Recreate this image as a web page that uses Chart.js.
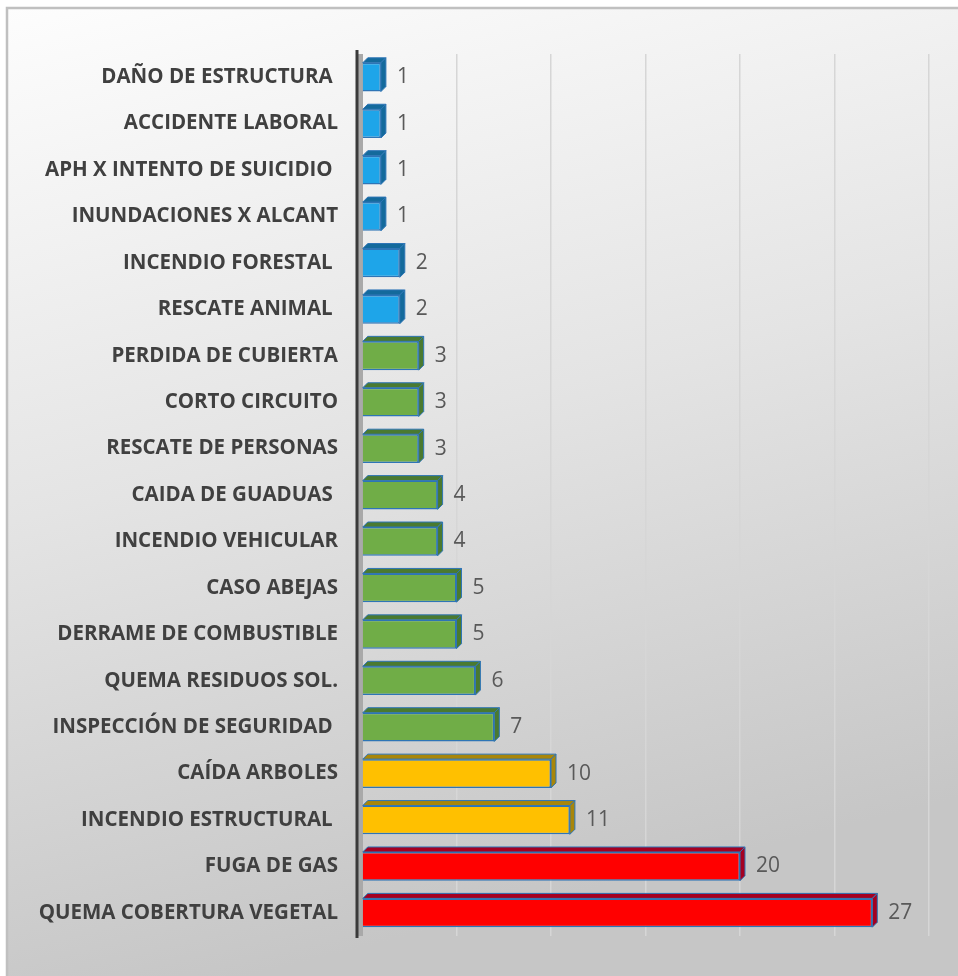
<!DOCTYPE html>
<html>
<head>
<meta charset="utf-8">
<script src="https://cdn.jsdelivr.net/npm/chart.js@4/dist/chart.umd.min.js"></script>
<style>
  html, body { margin: 0; padding: 0; background: #fff; }
  #grafico { display: block; }
</style>
</head>
<body>
<canvas id="grafico" width="958" height="976"></canvas>
<script>
// categorias (de arriba hacia abajo) y sus valores
const categorias = [
    'DAÑO DE ESTRUCTURA ', 'ACCIDENTE LABORAL', 'APH X INTENTO DE SUICIDIO ',
    'INUNDACIONES X ALCANT', 'INCENDIO FORESTAL ', 'RESCATE ANIMAL ',
    'PERDIDA DE CUBIERTA', 'CORTO CIRCUITO', 'RESCATE DE PERSONAS',
    'CAIDA DE GUADUAS ', 'INCENDIO VEHICULAR', 'CASO ABEJAS',
    'DERRAME DE COMBUSTIBLE', 'QUEMA RESIDUOS SOL.', 'INSPECCIÓN DE SEGURIDAD ',
    'CAÍDA ARBOLES', 'INCENDIO ESTRUCTURAL ', 'FUGA DE GAS', 'QUEMA COBERTURA VEGETAL'
];
const valores = [1, 1, 1, 1, 2, 2, 3, 3, 3, 4, 4, 5, 5, 6, 7, 10, 11, 20, 27];
const ejeMin = 0, ejeMax = 30, paso = 5;

// color segun rango
function colorBarra(v) {
    if (v >= 20) return '#ff0000';
    if (v >= 10) return '#ffc000';
    if (v >= 3) return '#70ad47';
    return '#1ea5e9';
}
function colorOscuro(v) {
    if (v >= 20) return '#a50021';
    if (v >= 10) return '#a8860a';
    if (v >= 3) return '#4a7a30';
    return '#146a9c';
}

// fondo con degradado y marco
const fondo = {
    id: 'fondo',
    beforeDraw(chart) {
        const c = chart.ctx, w = chart.width, h = chart.height;
        c.save();
        c.fillStyle = '#ffffff';
        c.fillRect(0, 0, w, h);
        const g = c.createLinearGradient(7, 8, 250, h);
        g.addColorStop(0, '#fdfdfd');
        g.addColorStop(0.5, '#e4e4e4');
        g.addColorStop(1, '#c6c6c6');
        c.fillStyle = g;
        c.fillRect(7, 8, w - 7, h - 8);
        c.strokeStyle = '#c0c0c0';
        c.lineWidth = 2.5;
        c.beginPath();
        c.moveTo(7, h);
        c.lineTo(7, 8);
        c.lineTo(w, 8);
        c.stroke();
        c.restore();
    }
};

// pared lateral y eje vertical
const pared = {
    id: 'pared',
    beforeDatasetsDraw(chart) {
        const c = chart.ctx, a = chart.chartArea;
        c.save();
        c.fillStyle = '#a9a9a9';
        c.fillRect(a.left - 4, a.top, 5, a.bottom - a.top);
        c.strokeStyle = '#3a3a3a';
        c.lineWidth = 3;
        c.beginPath();
        c.moveTo(a.left - 5, a.top - 4);
        c.lineTo(a.left - 5, a.bottom + 2);
        c.stroke();
        c.restore();
    }
};

// relieve 3D y etiquetas de valor
const relieve = {
    id: 'relieve',
    afterDatasetsDraw(chart) {
        const c = chart.ctx;
        const meta = chart.getDatasetMeta(0);
        const d = 5;
        c.save();
        meta.data.forEach((bar, i) => {
            const v = valores[i];
            const top = bar.y - bar.height / 2, bot = bar.y + bar.height / 2;
            c.fillStyle = colorOscuro(v);
            c.strokeStyle = '#2e75b6';
            c.lineWidth = 1;
            c.beginPath();
            c.moveTo(bar.base, top);
            c.lineTo(bar.base + d, top - d);
            c.lineTo(bar.x + d, top - d);
            c.lineTo(bar.x, top);
            c.closePath();
            c.fill();
            c.stroke();
            c.beginPath();
            c.moveTo(bar.x, top);
            c.lineTo(bar.x + d, top - d);
            c.lineTo(bar.x + d, bot - d);
            c.lineTo(bar.x, bot);
            c.closePath();
            c.fill();
            c.stroke();

            c.fillStyle = '#595959';
            c.font = '400 21px "Open Sans"';
            c.textAlign = 'left';
            c.textBaseline = 'middle';
            c.fillText(String(v), bar.x + 16, bar.y);
        });
        c.restore();
    }
};

const ctx = document.getElementById('grafico').getContext('2d');
const grafico = new Chart(ctx, {
    type: 'bar',
    data: {
        labels: categorias,
        datasets: [{
            data: valores,
            backgroundColor: valores.map(colorBarra),
            borderColor: '#2e75b6',
            borderWidth: 1.5,
            barPercentage: 0.62,
            categoryPercentage: 1
        }]
    },
    options: {
        indexAxis: 'y',
        responsive: false,
        animation: false,
        layout: { padding: { left: 32, right: 29, top: 54, bottom: 40 } },
        plugins: {
            legend: { display: false },
            tooltip: { enabled: false }
        },
        scales: {
            x: {
                min: ejeMin,
                max: ejeMax,
                ticks: { stepSize: paso, display: false },
                border: { display: false },
                grid: {
                    drawTicks: false,
                    lineWidth: 1.5,
                    color: (c) => c.tick && c.tick.value === 0 ? 'rgba(0,0,0,0)' : '#d6d6d6'
                },
                afterFit: (s) => { s.height = 0; }
            },
            y: {
                grid: { display: false, drawTicks: false },
                border: { display: false },
                ticks: {
                    color: '#404040',
                    padding: 24,
                    font: { family: '"Open Sans"', weight: '700', size: 20.5 }
                },
                afterFit: (s) => { s.width = 330; }
            }
        }
    },
    plugins: [fondo, pared, relieve]
});
</script>
</body>
</html>
